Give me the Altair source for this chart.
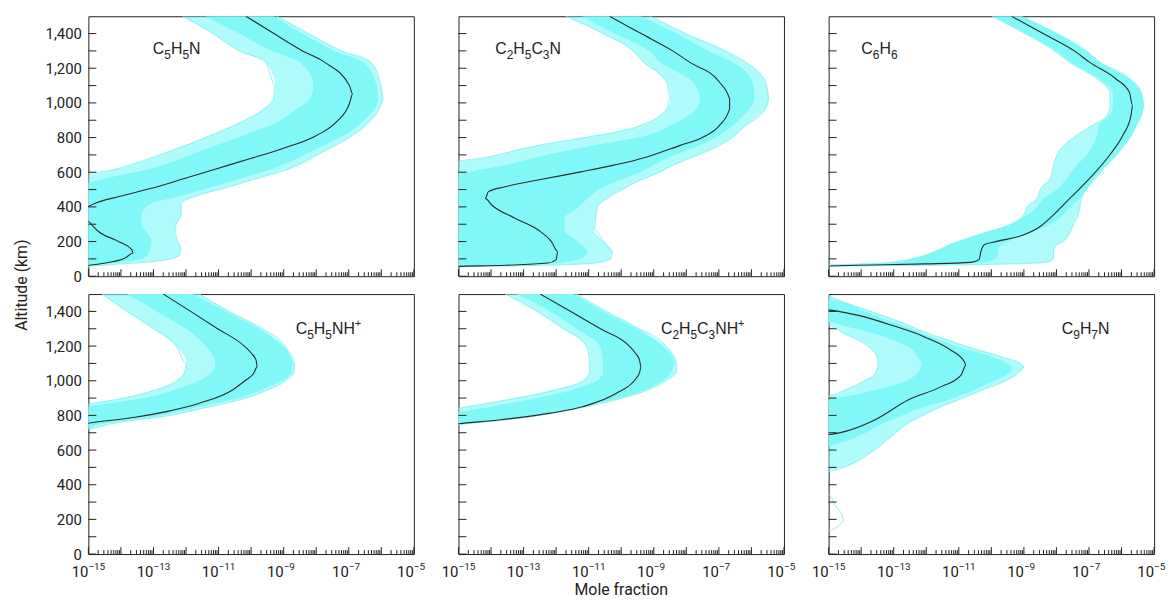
import altair as alt
import pandas as pd

# ---------------- data (values are log10 of the mole fraction) ----------------
# Panel 1: C5H5N
P1_MED_ALT = [50, 63, 76, 105, 134, 153, 201, 258, 316, 360, 402, 421, 459, 507, 564, 622, 679, 736, 812, 890, 995, 1052, 1100, 1234, 1300, 1400, 1500]
P1_MED = [-15.8, -15.0, -14.48, -13.87, -13.62, -13.67, -14.08, -14.69, -15.0, -15.4, -15.0, -14.79, -14.08, -13.06, -12.05, -11.03, -10.02, -9.05, -7.99, -7.38, -6.98, -6.88, -6.98, -7.74, -8.42, -9.3, -10.16]
P1_BAND_ALT = [50, 55, 70, 90, 120, 160, 200, 250, 300, 350, 421, 459, 507, 564, 622, 717, 813, 889, 966, 1023, 1100, 1234, 1300, 1400, 1500]
P1_OUTER_LO = [-16, -16, -16, -16, -16, -16, -16, -16, -16, -16, -16, -16, -16, -15.5, -14.08, -12.56, -11.24, -10.32, -9.61, -9.31, -9.26, -9.56, -10.37, -11.18, -12.1]
P1_CORE_LO = [-16, -16, -16, -16, -16, -16, -16, -16, -16, -16, -16, -16, -15.5, -14.48, -13.06, -11.64, -10.22, -9.2, -8.6, -8.2, -8.09, -8.5, -9.35, -10.37, -11.4]
P1_CORE_HI = [-16, -15.5, -14.58, -13.57, -13.2, -13.1, -13.06, -13.2, -13.37, -13.37, -13.06, -12.25, -11.34, -10.32, -9.31, -8.2, -7.15, -6.6, -6.2, -6.1, -6.15, -6.55, -7.42, -8.43, -9.3]
P1_OUTER_HI = [-16, -15.2, -14.08, -12.76, -12.2, -12.15, -12.25, -12.35, -12.3, -12.15, -12.15, -11.74, -10.83, -9.82, -8.8, -7.79, -6.88, -6.37, -6.06, -5.94, -6.01, -6.32, -7.22, -8.23, -9.2]

# Panel 2: C2H5C3N
P2_MED_ALT = [50, 57, 63, 76, 96, 143, 201, 268, 335, 411, 449, 488, 516, 555, 602, 641, 688, 755, 803, 870, 966, 1023, 1119, 1234, 1300, 1400, 1500]
P2_MED = [-16, -15.0, -13.57, -12.25, -12.0, -11.95, -12.15, -12.56, -13.27, -13.98, -14.18, -14.08, -13.57, -12.56, -11.24, -10.22, -9.21, -8.19, -7.48, -6.98, -6.67, -6.67, -6.98, -7.89, -8.42, -9.39, -10.36]
P2_BAND_ALT = [50, 55, 63, 76, 100, 143, 201, 268, 335, 400, 449, 516, 555, 602, 641, 688, 755, 803, 870, 966, 1023, 1119, 1234, 1300, 1400, 1500]
P2_OUTER_LO = [-16, -16, -16, -16, -16, -16, -16, -16, -16, -16, -16, -16, -16, -16, -15.5, -14.08, -12.56, -11.03, -9.41, -8.6, -8.5, -8.6, -9.31, -9.64, -10.56, -11.7]
P2_CORE_LO = [-16, -16, -16, -16, -16, -16, -16, -16, -16, -16, -16, -16, -16, -14.69, -13.57, -12.56, -10.83, -9.41, -8.5, -7.69, -7.59, -7.79, -8.8, -9.14, -10.2, -11.2]
P2_CORE_HI = [-16, -15.5, -13.57, -12.05, -11.3, -11.03, -11.34, -11.74, -11.74, -11.3, -11.03, -10.53, -10.02, -9.41, -9.0, -8.5, -7.59, -7.08, -6.57, -6.07, -5.91, -5.96, -6.57, -7.31, -8.3, -9.4]
P2_OUTER_HI = [-16, -15.0, -12.3, -10.83, -10.32, -10.27, -10.53, -10.83, -10.78, -10.73, -10.43, -9.82, -9.41, -8.8, -8.4, -7.79, -6.98, -6.57, -6.17, -5.56, -5.46, -5.56, -6.17, -6.8, -8.02, -9.1]

# Panel 3: C6H6
P3_MED_ALT = [52, 59, 63, 71, 80, 96, 143, 182, 201, 239, 287, 354, 449, 564, 698, 813, 927, 985, 1061, 1138, 1234, 1300, 1400, 1500]
P3_MED = [-16, -15.0, -14.08, -12.05, -10.63, -10.38, -10.32, -10.22, -9.83, -9.0, -8.5, -8.09, -7.59, -6.98, -6.37, -5.96, -5.71, -5.66, -5.76, -6.17, -6.98, -7.45, -8.41, -9.38]
P3_BAND_ALT = [52, 58, 62, 70, 80, 100, 120, 150, 180, 200, 250, 300, 354, 400, 449, 500, 564, 640, 698, 750, 813, 870, 927, 985, 1061, 1138, 1234, 1300, 1400, 1500]
P3_OUTER_LO = [-16, -16, -15.5, -14.08, -13.06, -12.46, -12.05, -11.64, -11.3, -11.03, -10.22, -9.41, -9.0, -8.9, -8.6, -8.5, -8.19, -8.09, -7.99, -7.79, -7.38, -6.9, -6.45, -6.35, -6.35, -6.75, -7.6, -8.05, -8.97, -9.98]
P3_CORE_LO = [-16, -16, -15.5, -14.08, -13.06, -12.46, -12.05, -11.64, -11.3, -11.03, -10.22, -9.41, -8.9, -8.6, -8.4, -7.99, -7.69, -7.38, -7.08, -6.9, -6.75, -6.7, -6.37, -6.27, -6.27, -6.67, -7.54, -8.0, -8.92, -9.94]
P3_CORE_HI = [-16, -15.5, -14.0, -11.5, -10.2, -9.9, -9.8, -9.8, -9.7, -9.5, -8.8, -8.19, -7.79, -7.59, -7.28, -7.08, -6.83, -6.47, -6.17, -5.96, -5.71, -5.56, -5.41, -5.33, -5.41, -5.76, -6.67, -7.1, -8.0, -9.1]
P3_OUTER_HI = [-16, -15.0, -12.5, -9.6, -8.3, -8.09, -8.09, -8.09, -7.99, -7.79, -7.59, -7.48, -7.33, -7.28, -7.23, -7.08, -6.8, -6.45, -6.15, -5.94, -5.69, -5.54, -5.39, -5.31, -5.39, -5.74, -6.65, -7.08, -7.98, -9.08]

# Panel 4: C5H5NH+
P4_MED_ALT = [720, 755, 788, 822, 870, 947, 1004, 1040, 1080, 1120, 1160, 1200, 1300, 1400, 1500]
P4_MED = [-16, -15.0, -13.62, -12.6, -11.59, -10.57, -10.16, -9.93, -9.81, -9.85, -10.0, -10.21, -11.03, -11.86, -12.70]
P4_BAND_ALT = [700, 720, 750, 800, 850, 900, 950, 1000, 1050, 1100, 1200, 1300, 1400, 1500]
P4_OUTER_LO = [-16, -16, -16, -16, -15.3, -13.92, -12.9, -12.3, -12.04, -11.99, -12.3, -13.0, -13.82, -14.58]
P4_CORE_LO = [-16, -16, -16, -16, -15.0, -13.3, -12.3, -11.6, -11.2, -11.1, -11.4, -12.0, -12.9, -13.8]
P4_CORE_HI = [-16, -15.2, -14.63, -12.8, -11.59, -10.37, -9.65, -9.04, -8.76, -8.74, -9.04, -9.76, -10.77, -11.79]
P4_OUTER_HI = [-16, -15.0, -14.35, -12.5, -11.28, -10.17, -9.45, -8.94, -8.68, -8.66, -8.96, -9.66, -10.67, -11.59]

# Panel 5: C2H5C3NH+
P5_MED_ALT = [730, 752, 775, 813, 851, 928, 1014, 1045, 1080, 1120, 1160, 1200, 1300, 1400, 1500]
P5_MED = [-16, -15.0, -13.71, -12.18, -11.17, -10.15, -9.54, -9.44, -9.39, -9.44, -9.57, -9.75, -10.64, -11.55, -12.49]
P5_BAND_ALT = [720, 740, 750, 770, 800, 850, 900, 950, 1000, 1050, 1100, 1200, 1300, 1400, 1500]
P5_OUTER_LO = [-16, -16, -16, -16, -16, -14.73, -13.2, -11.98, -11.17, -10.97, -10.97, -11.07, -11.78, -12.59, -13.56]
P5_CORE_LO = [-16, -16, -16, -16, -15.5, -14.01, -12.59, -11.47, -10.76, -10.56, -10.56, -10.66, -11.37, -12.18, -13.2]
P5_CORE_HI = [-16, -15.3, -14.93, -13.91, -12.69, -11.17, -10.05, -9.24, -8.73, -8.47, -8.37, -8.73, -9.54, -10.56, -11.47]
P5_OUTER_HI = [-16, -15.2, -14.83, -13.71, -12.49, -11.07, -9.95, -9.14, -8.63, -8.3, -8.3, -8.63, -9.44, -10.46, -11.37]

# Panel 6: C9H7N
P6_MED_ALT = [670, 688, 708, 775, 889, 966, 1033, 1090, 1109, 1176, 1253, 1320, 1377, 1409, 1430]
P6_MED = [-16, -15.0, -14.48, -13.57, -12.56, -11.54, -10.93, -10.78, -10.83, -11.24, -12.05, -13.06, -14.08, -15.0, -16]
P6_BAND_ALT = [450, 500, 560, 620, 680, 750, 800, 850, 890, 910, 950, 1000, 1040, 1080, 1100, 1130, 1200, 1230, 1270, 1320, 1340, 1360, 1400, 1470, 1490, 1500]
P6_OUTER_LO = [-16, -16, -16, -16, -16, -16, -16, -16, -16, -15.0, -14.45, -13.9, -13.57, -13.5, -13.48, -13.5, -13.8, -14.05, -14.5, -15.0, -16, -16, -16, -16, -16, -16]
P6_CORE_LO = [-16, -16, -16, -16, -16, -16, -16, -16, -15.0, -14.45, -13.5, -12.6, -12.3, -12.17, -12.15, -12.25, -12.6, -12.95, -13.55, -14.6, -15.0, -16, -16, -16, -16, -16]
P6_CORE_HI = [-16, -16, -16, -15.0, -14.08, -13.35, -12.75, -12.05, -11.3, -11.0, -10.5, -9.9, -9.48, -9.36, -9.5, -9.85, -11.1, -11.5, -12.05, -12.75, -13.07, -13.35, -13.9, -14.97, -16, -16]
P6_OUTER_HI = [-16, -14.55, -13.9, -13.45, -13.06, -12.6, -12.1, -11.55, -11.0, -10.75, -10.25, -9.55, -9.2, -9.0, -9.1, -9.55, -10.8, -11.25, -11.9, -12.55, -12.8, -13.1, -13.7, -14.75, -15.0, -15.3]
P6_LOOP_ALT = [120, 134, 163, 191, 220, 277, 344, 360]
P6_LOOP = [-16, -15.0, -14.69, -14.53, -14.58, -14.79, -15.0, -16]

# Panel names: (text, role) with role n = normal, s = subscript, p = superscript
PANEL_NAMES = [
    [("C", "n"), ("5", "s"), ("H", "n"), ("5", "s"), ("N", "n")],
    [("C", "n"), ("2", "s"), ("H", "n"), ("5", "s"), ("C", "n"), ("3", "s"), ("N", "n")],
    [("C", "n"), ("6", "s"), ("H", "n"), ("6", "s")],
    [("C", "n"), ("5", "s"), ("H", "n"), ("5", "s"), ("N", "n"), ("H", "n"), ("+", "p")],
    [("C", "n"), ("2", "s"), ("H", "n"), ("5", "s"), ("C", "n"), ("3", "s"), ("N", "n"), ("H", "n"), ("+", "p")],
    [("C", "n"), ("9", "s"), ("H", "n"), ("7", "s"), ("N", "n")],
]

X_LABEL_EXP = [-15, -13, -11, -9, -7, -5]
X_LABEL_EXP_TEXT = ["−15", "−13", "−11", "−9", "−7", "−5"]
Y_LABEL_VALUES = [0, 200, 400, 600, 800, 1000, 1200, 1400]
Y_MINOR_VALUES = [100, 300, 500, 700, 900, 1100, 1300]

# ---------------- styling ----------------
W, H = 328, 262
CORE = "#80F8F8"
EDGE = "#86F2F2"
MED_COLOR = "#2b2b2b"
INK = "#222222"
AXIS_FONT = "Roboto"
NAME_FONT = "Liberation Sans"
NAME_SIZE, SUB_SIZE = 16, 12
# advance widths (em) for Liberation Sans glyphs used in the names
GLYPH_EM = {"C": 0.722, "H": 0.722, "N": 0.722, "+": 0.584}

# panel-name placement (left x, baseline y in pixels inside each plot area)
NAME_POS = [(65, 38), (37, 38), (33, 38), (209, 40), (204, 40), (235, 40)]

xscale = alt.Scale(type="log", domain=[1e-15, 1e-5], nice=False)
yscale = alt.Scale(domain=[0, 1500], nice=False, zero=False)

x_major = [10.0 ** e for e in range(-15, -4)]
x_minor = [k * 10.0 ** e for e in range(-15, -5) for k in range(2, 10)]


def lin(v):
    return [10.0 ** x for x in v]


def name_layers(i):
    nx, ny = NAME_POS[i]
    out = []
    offset = 0.0
    for txt, role in PANEL_NAMES[i]:
        size = NAME_SIZE if role == "n" else (SUB_SIZE if role == "s" else 11)
        dy = 0 if role == "n" else (5 if role == "s" else -7)
        out.append(alt.Chart(pd.DataFrame({"t": [txt]})).mark_text(
            align="left", baseline="alphabetic", font=NAME_FONT, fontSize=size, color=INK).encode(
            x=alt.value(nx + offset), y=alt.value(ny + dy), text="t:N"))
        offset += GLYPH_EM.get(txt, 0.556) * size
    return out


def make_panel(i, med_alt, med, band_alt, olo, clo, chi, ohi, extra=None):
    row, col = divmod(i, 3)
    xaxis = alt.Axis(labels=False, ticks=False, domain=False, grid=False, title=None)
    yaxis = alt.Axis(
        values=Y_LABEL_VALUES, labelExpr="format(datum.value, ',')", labels=(col == 0),
        ticks=False, tickSize=0, domain=False, grid=False, title=None,
        labelFont=AXIS_FONT, labelFontSize=15, labelColor=INK, labelPadding=7,
    )
    X = lambda f: alt.X(f, type="quantitative", scale=xscale, axis=xaxis)
    Y = lambda f: alt.Y(f, type="quantitative", scale=yscale, axis=yaxis)

    band = pd.DataFrame({"alt": band_alt, "olo": lin(olo), "clo": lin(clo), "chi": lin(chi), "ohi": lin(ohi)})
    outer = alt.Chart(band).mark_area(orient="horizontal", interpolate="monotone", clip=True,
                                      color=CORE, opacity=0.62).encode(
        y=Y("alt"), x=X("olo"), x2="ohi")
    core = alt.Chart(band).mark_area(orient="horizontal", interpolate="monotone", clip=True,
                                     color=CORE, opacity=1).encode(
        y=Y("alt"), x=X("clo"), x2="chi")
    edges = pd.concat([
        pd.DataFrame({"alt": band_alt, "x": lin(olo), "k": "lo"}),
        pd.DataFrame({"alt": band_alt, "x": lin(ohi), "k": "hi"}),
    ] + ([pd.DataFrame({"alt": extra[0], "x": lin(extra[1]), "k": "extra"})] if extra else []))
    edge_lines = alt.Chart(edges).mark_line(orient="horizontal", interpolate="monotone", clip=True,
                                            color=EDGE, strokeWidth=0.9).encode(
        y=Y("alt"), x=X("x"), detail="k:N", order="alt:Q")
    med_df = pd.DataFrame({"alt": med_alt, "x": lin(med)})
    med_line = alt.Chart(med_df).mark_line(orient="horizontal", interpolate="monotone", clip=True,
                                           color=MED_COLOR, strokeWidth=1.1).encode(
        y=Y("alt"), x=X("x"), order="alt:Q")

    xt_major = alt.Chart(pd.DataFrame({"v": x_major})).mark_rule(color=INK, strokeWidth=1).encode(
        x=X("v"), y=alt.value(H), y2=alt.value(H - 7))
    xt_minor = alt.Chart(pd.DataFrame({"v": x_minor})).mark_rule(color=INK, strokeWidth=1).encode(
        x=X("v"), y=alt.value(H), y2=alt.value(H - 4))
    yt = alt.Chart(pd.DataFrame({"v": Y_LABEL_VALUES + Y_MINOR_VALUES})).mark_rule(color=INK, strokeWidth=1).encode(
        y=Y("v"), x=alt.value(0), x2=alt.value(8))

    layers = [outer, core, edge_lines, med_line, xt_major, xt_minor, yt] + name_layers(i)

    if row == 1:
        lab = pd.DataFrame({"v": [10.0 ** e for e in X_LABEL_EXP], "e": X_LABEL_EXP_TEXT, "b": ["10"] * len(X_LABEL_EXP)})
        base = alt.Chart(lab).mark_text(align="right", baseline="alphabetic", font=AXIS_FONT,
                                        fontSize=15, color=INK).encode(
            x=X("v"), y=alt.value(H + 23), text="b:N")
        expo = alt.Chart(lab).mark_text(align="left", baseline="alphabetic", font=AXIS_FONT,
                                        fontSize=10, color=INK).encode(
            x=X("v"), y=alt.value(H + 16), text="e:N")
        layers += [base, expo]
    if i == 4:
        layers.append(alt.Chart(pd.DataFrame({"t": ["Mole fraction"]})).mark_text(
            align="center", baseline="middle", font=AXIS_FONT, fontSize=16, color=INK).encode(
            x=alt.value(W / 2), y=alt.value(H + 36), text="t:N"))
    if i == 0:
        layers.append(alt.Chart(pd.DataFrame({"t": ["Altitude (km)"]})).mark_text(
            align="center", baseline="middle", angle=270, font=AXIS_FONT, fontSize=16, color=INK).encode(
            x=alt.value(-67), y=alt.value(H + 9), text="t:N"))
    return alt.layer(*layers).properties(width=W, height=H)


panels = [
    make_panel(0, P1_MED_ALT, P1_MED, P1_BAND_ALT, P1_OUTER_LO, P1_CORE_LO, P1_CORE_HI, P1_OUTER_HI),
    make_panel(1, P2_MED_ALT, P2_MED, P2_BAND_ALT, P2_OUTER_LO, P2_CORE_LO, P2_CORE_HI, P2_OUTER_HI),
    make_panel(2, P3_MED_ALT, P3_MED, P3_BAND_ALT, P3_OUTER_LO, P3_CORE_LO, P3_CORE_HI, P3_OUTER_HI),
    make_panel(3, P4_MED_ALT, P4_MED, P4_BAND_ALT, P4_OUTER_LO, P4_CORE_LO, P4_CORE_HI, P4_OUTER_HI),
    make_panel(4, P5_MED_ALT, P5_MED, P5_BAND_ALT, P5_OUTER_LO, P5_CORE_LO, P5_CORE_HI, P5_OUTER_HI),
    make_panel(5, P6_MED_ALT, P6_MED, P6_BAND_ALT, P6_OUTER_LO, P6_CORE_LO, P6_CORE_HI, P6_OUTER_HI,
               extra=(P6_LOOP_ALT, P6_LOOP)),
]

chart = alt.concat(*panels, columns=3, spacing={"row": 18, "column": 45}, bounds="flush").configure_view(
    stroke=INK, strokeWidth=1
).properties(padding={"left": 5, "top": 5, "right": 0, "bottom": 0}, background="white")

chart.save("out.html", embed_options={"renderer": "svg", "actions": False})
